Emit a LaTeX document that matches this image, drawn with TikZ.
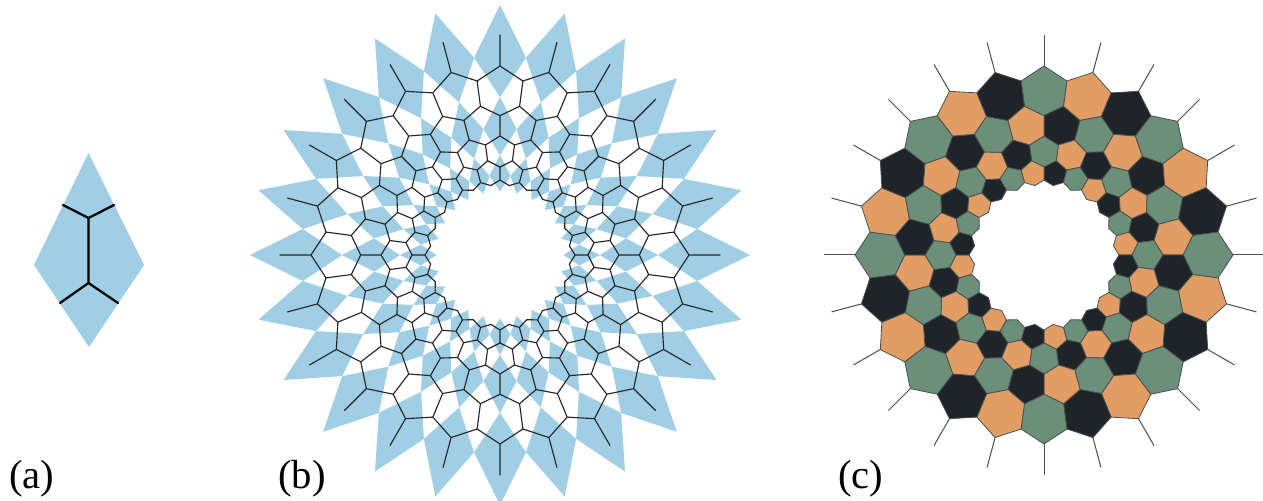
\documentclass[tikz,border=0pt]{standalone}
\usepackage{fontspec}
\setmainfont{Liberation Serif}
\definecolor{tileblue}{HTML}{A0CEE5}
\definecolor{hexG}{HTML}{6B8F78}
\definecolor{hexO}{HTML}{E29D65}
\definecolor{hexB}{HTML}{1F2429}
\definecolor{hexline}{HTML}{4A4F52}
\tikzset{
  kitefill/.style={fill=tileblue,draw=none},
  bigedge/.style={draw=black,line width=1.7pt,line cap=round,line join=round},
  netedge/.style={draw=black!85,line width=0.85pt,line cap=round,line join=round},
  hexedge/.style={draw=hexline,line width=0.6pt,line join=round},
  hairedge/.style={draw=hexline,line width=0.75pt},
  panel/.style={anchor=base west,inner sep=0pt,font=\fontsize{30.5}{30.5}\selectfont}
}
\begin{document}
\begin{tikzpicture}[x=0.75pt,y=0.75pt]
\useasboundingbox (0,0) rectangle (1263,500);
\fill[white] (0,0) rectangle (1263,500);

% ---------- panel (a)
\coordinate (ka) at (88.5,347);
\coordinate (kb) at (144,235);
\coordinate (kc) at (89,153);
\coordinate (kd) at (34,235);
\coordinate (v1) at (88.5,282);
\coordinate (v2) at (88.5,217);
\coordinate (h1) at (63,295);
\coordinate (h2) at (114,295);
\coordinate (h3) at (60,197);
\coordinate (h4) at (118,197);
\fill[kitefill] (ka)--(kb)--(kc)--(kd)--cycle;
\draw[bigedge] (h1)--(v1)--(h2) (v1)--(v2) (h3)--(v2)--(h4);

% ---------- panel (b)
\begin{scope}[shift={(500,245)}]
  \foreach \k in {0,...,23}{
    \pgfmathsetmacro\a{90-15*\k}
    \pgfmathsetmacro\ap{\a+7.5}\pgfmathsetmacro\am{\a-7.5}
    \fill[kitefill] (\a:250)--(\ap:199)--(\a:158)--(\am:199)--cycle;
    \fill[kitefill] (\a:158)--(\ap:127)--(\a:100)--(\am:127)--cycle;
    \fill[kitefill] (\a:100)--(\ap:80)--(\a:63.5)--(\am:80)--cycle;
  }
  \foreach \k in {0,...,23}{
    \pgfmathsetmacro\a{90-15*\k}
    \pgfmathsetmacro\ap{\a+7.5}\pgfmathsetmacro\am{\a-7.5}\pgfmathsetmacro\an{\a+15}
    \draw[netedge]
      (\a:220)--(\a:189)
      (\am:175.5)--(\a:189)--(\ap:175.5)--(\ap:150)
      (\a:139.3)--(\ap:150)--(\an:139.3)
      (\a:139.3)--(\a:119)
      (\am:111)--(\a:119)--(\ap:111)--(\ap:95)
      (\a:88)--(\ap:95)--(\an:88)
      (\a:88)--(\a:75)
      (\am:70)--(\a:75)--(\ap:70);
  }
\end{scope}

% ---------- panel (c)
\begin{scope}[shift={(1044,245)}]
  \foreach \k in {0,...,23}{
    \pgfmathsetmacro\a{90-15*\k}
    \pgfmathsetmacro\ap{\a+7.5}\pgfmathsetmacro\am{\a-7.5}
    \pgfmathtruncatemacro\m{mod(\k,3)}
    \ifcase\m\def\fa{hexG}\def\fb{hexB}\or\def\fa{hexO}\def\fb{hexG}\or\def\fa{hexB}\def\fb{hexO}\fi
    \filldraw[hexedge,fill=\fa] (\a:189)--(\am:175.5)--(\am:150)--(\a:139.3)--(\ap:150)--(\ap:175.5)--cycle;
    \filldraw[hexedge,fill=\fa] (\a:119)--(\am:111)--(\am:95)--(\a:88)--(\ap:95)--(\ap:111)--cycle;
    \draw[hairedge] (\a:189)--(\a:220);
    \pgfmathsetmacro\c{\a-7.5}
    \pgfmathsetmacro\cp{\c+7.5}\pgfmathsetmacro\cm{\c-7.5}
    \filldraw[hexedge,fill=\fb] (\c:150)--(\cm:139.3)--(\cm:119)--(\c:111)--(\cp:119)--(\cp:139.3)--cycle;
    \filldraw[hexedge,fill=\fb] (\c:95)--(\cm:88)--(\cm:75)--(\c:70)--(\cp:75)--(\cp:88)--cycle;
  }
\end{scope}

% ---------- labels
\node[panel] (la) at (9,12) {(a)};
\node[panel] (lb) at (278,12) {(b)};
\node[panel] (lc) at (838,12) {(c)};
\end{tikzpicture}
\end{document}
